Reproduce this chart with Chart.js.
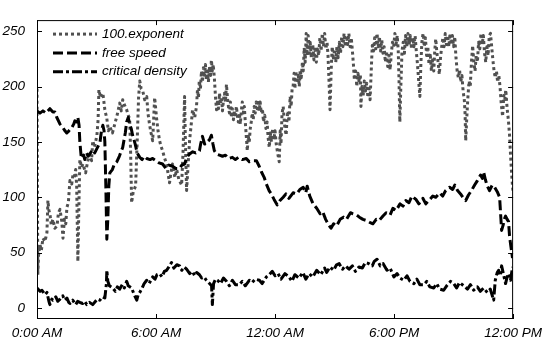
<!DOCTYPE html>
<html><head><meta charset="utf-8">
<script src="https://cdn.jsdelivr.net/npm/chart.js@4/dist/chart.umd.min.js"></script>
<style>html,body{margin:0;padding:0;background:#fff}#wrap{width:548px;height:344px}</style>
</head><body><div id="wrap"><canvas id="c" width="548" height="344"></canvas></div>
<script>
const xTickValues = [0, 6, 12, 18, 24];
const xTickLabels = ['0:00 AM', '6:00 AM', '12:00 AM', '6:00 PM', '12:00 PM'];
const yTickValues = [0, 50, 100, 150, 200, 250];
const seriesNames = ['100.exponent', 'free speed', 'critical density'];

const expHours = [0,0.04,0.08,0.15,0.22,0.3,0.4,0.5,0.55,0.6, 0.65,0.72,0.8,0.9,1.01,1.08,1.16,1.25,1.31,1.38, 1.45,1.51,1.58,1.66,1.75,1.81,1.88,1.95,2.0,2.06, 2.12,2.16,2.25,2.31,2.45,2.55,2.66,2.75,2.81,2.9, 3.02,3.08,3.12,3.2,3.32,3.42,3.52,3.6,3.67,3.8, 3.92,4.05,4.17,4.25,4.32,4.42,4.52,4.6,4.67,4.72, 4.77,4.85,4.97,5.05,5.12,5.18,5.25,5.33,5.43,5.53, 5.6,5.68,5.75,5.83,5.88,5.93,6.03,6.1,6.18,6.25, 6.33,6.42,6.53,6.6,6.68,6.75,6.83,6.95,7.04,7.15, 7.29,7.36,7.44,7.48,7.54,7.62,7.69,7.77,7.84,7.95,
 8.04,8.09,8.14,8.18,8.24,8.29,8.34,8.39,8.44,8.49, 8.54,8.59,8.64,8.7,8.75,8.79,8.84,8.88,8.94,9.0, 9.05,9.1,9.15,9.2,9.25,9.3,9.35,9.4,9.45,9.5, 9.55,9.6,9.65,9.7,9.75,9.8,9.85,9.9,9.95,10.0, 10.05,10.1,10.15,10.2,10.25,10.3,10.35,10.4,10.45,10.5, 10.55,10.6,10.65,10.7,10.75,10.8,10.85,10.9,10.95,11.0, 11.05,11.1,11.15,11.2,11.25,11.3,11.36,11.42,11.48,11.54, 11.6,11.65,11.71,11.76,11.82,11.88,11.94,12.0,12.06,12.13, 12.21,12.26,12.3,12.35,12.41,12.46,12.5,12.56,12.6,12.65, 12.7,12.76,12.81,12.86,
 12.91,12.96,13.0,13.05,13.1,13.17,13.22,13.27,13.32,13.38, 13.42,13.47,13.52,13.57,13.62,13.67,13.72,13.77,13.83,13.9, 13.96,14.02,14.08,14.14,14.2,14.26,14.32,14.38,14.44,14.5, 14.56,14.62,14.67,14.72,14.77,14.83,14.88,14.94,15.0,15.06, 15.12,15.18,15.24,15.3,15.36,15.42,15.48,15.54,15.6,15.66, 15.72,15.78,15.84,15.9,15.95,16.0,16.06,16.12,16.18,16.24, 16.3,16.33,16.38,16.44,16.5,16.56,16.62,16.68,16.74,16.79, 16.85,16.9,16.96,17.02,17.08,17.14,17.2,17.26,17.32,17.38, 17.44,17.5,17.56,17.62,17.68,17.74,17.8,17.86,17.92,17.98, 18.04,18.1,18.16,18.21,18.25,18.29,18.34,18.4,18.46,18.52, 18.58,18.64,18.7,18.76,18.82,18.88,18.94,19.0,19.06,19.12, 19.18,19.24,19.3,19.35,19.4,19.46,19.52,19.58,19.64,19.7, 19.76,19.82,19.88,19.94,20.0,20.05,20.1,20.16,20.22,20.28, 20.34,20.4,20.46,20.52,20.58,20.64,20.7,20.76,20.82,20.88, 20.94,21.0,21.06,21.12,21.18,21.24,21.3,21.36,21.42,21.48, 21.54,21.58,21.61,21.66,21.72,21.78,21.84,21.9,21.96,22.02, 22.08,22.14,22.2,22.26,22.32,22.38,22.44,22.5,22.56,22.62, 22.68,22.74,22.8,22.86,22.92,22.98,23.04,23.1,23.16,23.22, 23.28,23.34,23.4,23.47,23.53,23.58,23.63,23.7,23.76,23.82, 23.88,23.93,23.97,24.0];
const expValues = [198,30,48,57,52,63,60,68,97,88, 85,75,80,72,74,86,89,78,63,80, 76,91,95,115,112,120,118,125,110,42, 100,134,127,130,122,132,139,133,151,145, 156,170,197,190,194,179,171,160,164,158, 166,175,185,178,188,183,179,174,171,140, 95,105,110,150,190,205,198,196,188,191, 175,165,158,151,170,190,171,160,151,146, 142,136,130,122,113,122,130,118,125,116, 111,140,191,150,106,130,151,165,179,172,
 182,197,190,205,198,214,204,217,208,220, 206,214,204,218,210,224,214,220,208,190, 179,188,180,194,184,190,178,188,194,186, 202,190,182,176,186,172,180,170,178,172, 182,174,168,176,166,178,186,176,182,168, 155,142,155,150,162,168,176,170,182,176, 186,180,188,178,186,176,180,168,174,162, 168,154,145,158,150,162,152,160,148,140, 132,160,148,175,182,170,162,156,170,178, 168,191,182,198,
 200,212,198,214,203,210,200,215,208,222, 214,235,222,248,228,246,230,240,226,238, 224,236,222,234,228,244,232,248,236,248, 234,240,228,205,179,215,236,224,234,222, 236,226,240,230,245,236,248,236,246,238, 248,236,244,232,220,206,214,200,212,204, 211,182,200,192,205,196,203,190,198,188, 215,237,232,244,234,248,236,245,232,242, 230,236,222,232,218,228,215,230,240,236, 248,238,246,232,205,168,200,232,240,230, 246,236,248,238,246,234,244,236,246,232, 220,205,191,220,240,248,236,244,228,236, 220,230,214,224,214,232,243,230,222,211, 226,236,244,236,248,238,246,236,248,238, 246,236,245,226,214,208,215,204,210,196, 188,175,151,170,190,205,200,222,237,222, 214,228,222,240,234,248,238,246,230,222, 236,228,246,248,236,224,214,208,214,204, 210,200,185,173,192,188,197,180,170,156, 135,120,110,105];

const speedHours = [0,0.15,0.3,0.45,0.65,0.8,0.9,1.0,1.16,1.3, 1.41,1.5,1.56,1.66,1.76,1.85,1.91,2.0,2.06,2.12, 2.16,2.22,2.26,2.35,2.41,2.5,2.58,2.66,2.8,2.91, 3.05,3.17,3.25,3.32,3.38,3.42,3.47,3.52,3.57,3.62, 3.67,3.8,3.9,4.02,4.15,4.32,4.45,4.52,4.6,4.67, 4.75,4.82,4.95,5.05,5.18,5.3,5.4,5.53,5.7,5.83, 6.0,6.15,6.33,6.5,6.65,6.83,7.0,7.19,7.3,7.44, 7.55,7.69,7.85,8.0,8.19,8.25,8.34,8.45,8.52,8.59, 8.7,8.79,8.87,8.94,9.05,9.2,9.35,9.5,9.65,9.85, 10.0,10.15,10.35,10.55,10.7,10.9,11.06,11.2,11.31,11.45, 11.56,11.7,11.81,11.95,12.11,12.25,12.41,12.55,12.7,12.91, 13.1,13.25,13.42,13.55,13.62,13.75,13.92,14.1,14.27,14.4, 14.55,14.7,14.82,14.95,15.1,15.28,15.45,15.6,15.8,15.93, 16.1,16.25,16.43,16.6,16.8,16.93,17.1,17.25,17.44,17.6, 17.8,17.94,18.1,18.3,18.45,18.59,18.75,18.9,19.1,19.25, 19.45,19.6,19.8,19.95,20.1,20.3,20.45,20.6,20.8,20.95, 21.06,21.2,21.35,21.5,21.61,21.75,21.9,22.06,22.2,22.36, 22.45,22.51,22.6,22.7,22.81,22.95,23.07,23.2,23.32,23.37, 23.42,23.5,23.55,23.62,23.7,23.77,23.82,23.87,23.97];
const speedValues = [178,176,178,176,180,177,177,172,166,163, 160,158,159,161,163,166,169,168,172,165, 150,138,135,138,134,140,137,139,143,140, 145,149,160,165,160,150,110,62,80,110, 122,125,130,132,137,145,158,168,172,166, 162,156,148,140,136,134,137,135,134,135, 133,131,130,126,129,128,126,126,129,130, 136,139,141,140,142,148,155,148,150,150, 152,156,148,142,139,138,137,138,135,136, 134,136,134,135,132,133,133,128,123,118, 112,106,103,98,93,97,100,103,99,104, 103,107,109,104,110,101,94,90,85,87, 80,75,72,76,74,80,82,80,86,85, 84,82,80,79,77,76,80,79,83,86, 84,90,88,94,92,97,95,101,98,94, 99,94,98,101,100,104,101,106,109,107, 111,106,103,99,97,102,106,111,115,120, 117,123,116,110,106,111,109,105,100,85, 70,75,80,83,80,78,65,58,45];

const densHours = [0,0.15,0.25,0.4,0.5,0.6,0.65,0.75,0.8,0.95, 1.05,1.16,1.3,1.4,1.51,1.6,1.66,1.8,1.95,2.05, 2.16,2.3,2.4,2.51,2.65,2.81,2.95,3.05,3.17,3.3, 3.42,3.5,3.52,3.57,3.65,3.82,3.95,4.05,4.17,4.3, 4.4,4.52,4.6,4.77,4.9,5.03,5.1,5.18,5.3,5.4, 5.53,5.65,5.83,5.95,6.05,6.18,6.3,6.42,6.53,6.65, 6.78,6.9,7.05,7.19,7.3,7.42,7.54,7.7,7.84,7.95, 8.05,8.19,8.3,8.42,8.54,8.7,8.8,8.84,8.9,9.0, 9.1,9.25,9.4,9.55,9.7,9.85,10.0,10.2,10.35,10.5, 10.7,10.85,11.0,11.21,11.35,11.56,11.7,11.86,12.0,12.15, 12.3,12.5,12.71,12.85,13.0,13.2,13.4,13.55,13.72,13.9, 14.1,14.3,14.5,14.6,14.77,14.95,15.1,15.23,15.4,15.55, 15.73,15.9,16.05,16.23,16.4,16.55,16.73,16.9,17.0,17.14, 17.3,17.45,17.64,17.8,17.99,18.15,18.3,18.49,18.65,18.8, 19.0,19.15,19.3,19.5,19.65,19.8,20.0,20.15,20.3,20.5, 20.65,20.85,21.01,21.15,21.3,21.51,21.7,21.85,22.01,22.2, 22.35,22.51,22.7,22.85,23.02,23.1,23.2,23.27,23.35,23.42, 23.52,23.62,23.7,23.77,23.87,23.97];
const densValues = [18,15,16,12,14,6,3,8,7,10, 6,8,11,7,9,5,4,7,3,6, 5,4,6,3,5,3,6,8,7,10, 9,22,34,24,20,18,15,19,17,21, 18,24,20,18,12,7,12,14,18,22, 25,22,28,26,30,31,28,33,34,37, 41,36,39,38,34,37,35,31,33,29, 32,30,27,28,25,22,20,3,22,26, 25,22,27,24,20,25,21,21,24,20, 25,23,26,25,22,28,30,33,29,31, 26,31,28,24,30,27,32,26,31,28, 34,30,36,32,37,34,39,40,35,38, 35,38,33,37,36,41,40,38,42,44, 38,40,34,36,28,31,27,25,29,24, 22,26,21,21,24,19,18,22,17,16, 20,24,22,18,23,20,17,21,16,19, 15,18,14,17,7,25,32,34,29,38, 30,22,28,31,25,37];

const pts = (hs, vs) => hs.map((h, i) => ({x: h, y: vs[i]}));
const FONT = {family: '"Liberation Sans", Arial, sans-serif', size: 13.5, style: 'italic'};

const framePlugin = {
  id: 'frame',
  afterDatasetsDraw(chart) {
    const {ctx, chartArea: a, scales: {x, y}} = chart;
    ctx.save();
    ctx.setLineDash([]);
    ctx.strokeStyle = '#000';
    ctx.lineWidth = 1;
    ctx.strokeRect(a.left + 0.5, a.top + 0.5, a.right - a.left - 1, a.bottom - a.top - 1);
    const L = 5;
    ctx.beginPath();
    x.ticks.forEach(t => {
      const px = Math.round(x.getPixelForValue(t.value)) + 0.5;
      ctx.moveTo(px, a.bottom); ctx.lineTo(px, a.bottom - L);
      ctx.moveTo(px, a.top); ctx.lineTo(px, a.top + L);
    });
    y.ticks.forEach(t => {
      const py = Math.round(y.getPixelForValue(t.value)) + 0.5;
      ctx.moveTo(a.left, py); ctx.lineTo(a.left + L, py);
      ctx.moveTo(a.right, py); ctx.lineTo(a.right - L, py);
    });
    ctx.stroke();
    ctx.font = 'italic 13.5px "Liberation Sans", Arial, sans-serif';
    ctx.textBaseline = 'middle';
    ctx.textAlign = 'left';
    chart.data.datasets.forEach((ds, i) => {
      const ly = a.top + 14 + i * 18.8;
      ctx.beginPath();
      ctx.strokeStyle = ds.borderColor;
      ctx.lineWidth = ds.borderWidth;
      ctx.setLineDash(ds.borderDash);
      ctx.moveTo(a.left + 16, ly); ctx.lineTo(a.left + 60, ly);
      ctx.stroke();
      ctx.setLineDash([]);
      ctx.fillStyle = '#000';
      ctx.fillText(ds.label, a.left + 65, ly);
    });
    ctx.restore();
  }
};

new Chart(document.getElementById('c'), {
  type: 'line',
  data: {
    datasets: [
      {label: seriesNames[0], data: pts(expHours, expValues), borderColor: '#505050', borderWidth: 3, borderDash: [3, 3], pointRadius: 0, tension: 0, order: 3, borderJoinStyle: 'round'},
      {label: seriesNames[1], data: pts(speedHours, speedValues), borderColor: '#000000', borderWidth: 3, borderDash: [10, 4], pointRadius: 0, tension: 0, order: 2, borderJoinStyle: 'round'},
      {label: seriesNames[2], data: pts(densHours, densValues), borderColor: '#000000', borderWidth: 3, borderDash: [10, 3, 3, 3], pointRadius: 0, tension: 0, order: 1, borderJoinStyle: 'round'}
    ]
  },
  options: {
    responsive: false,
    animation: false,
    devicePixelRatio: 1,
    layout: {padding: {left: 0, right: 34, top: 7, bottom: 0}},
    plugins: {legend: {display: false}, tooltip: {enabled: false}},
    scales: {
      x: {
        type: 'linear', min: 0, max: 24,
        grid: {display: false, drawTicks: false},
        border: {display: false},
        afterBuildTicks: s => { s.ticks = xTickValues.map(v => ({value: v})); },
        afterFit: s => { s.height = 25; },
        ticks: {font: FONT, color: '#000', padding: 6, maxRotation: 0, autoSkip: false,
          callback: v => xTickLabels[xTickValues.indexOf(v)]}
      },
      y: {
        type: 'linear', min: -10, max: 260,
        grid: {display: false, drawTicks: false},
        border: {display: false},
        afterBuildTicks: s => { s.ticks = yTickValues.map(v => ({value: v})); },
        afterFit: s => { s.width = 37; },
        ticks: {font: FONT, color: '#000', padding: 12, callback: v => String(v)}
      }
    }
  },
  plugins: [framePlugin]
});
</script>
</body></html>
